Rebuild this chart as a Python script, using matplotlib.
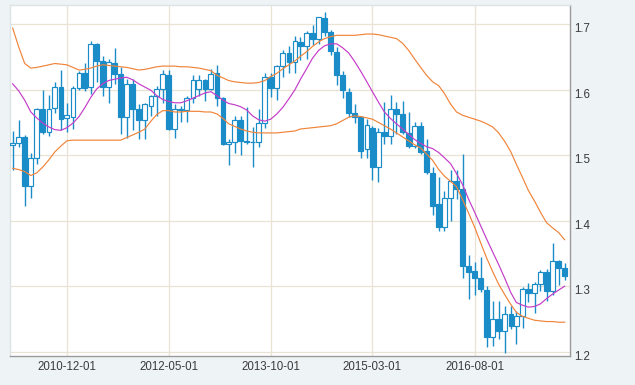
import numpy as np
import pandas as pd
import matplotlib
matplotlib.use('Agg')
import matplotlib.pyplot as plt
import matplotlib.dates as mdates
from matplotlib.transforms import ScaledTranslation

# monthly candles, 2010-03 .. 2017-11
months = pd.date_range('2010-03-01', periods=93, freq='MS')

opens = [1.516, 1.519, 1.528, 1.453, 1.495, 1.570, 1.536, 1.572, 1.604, 1.557,
         1.558, 1.602, 1.626, 1.604, 1.670, 1.644, 1.604, 1.640, 1.624, 1.558,
         1.609, 1.571, 1.553, 1.575, 1.590, 1.6015, 1.623, 1.540, 1.569, 1.5685,
         1.587, 1.6015, 1.6143, 1.6015, 1.6255, 1.587, 1.5176, 1.520, 1.554, 1.521,
         1.5195, 1.5205, 1.549, 1.619, 1.603, 1.636, 1.656, 1.643, 1.673, 1.667,
         1.687, 1.677, 1.7094, 1.688, 1.6575, 1.622, 1.5965, 1.565, 1.558, 1.510,
         1.542, 1.482, 1.5353, 1.529, 1.571, 1.5633, 1.534, 1.5135, 1.5445, 1.5064,
         1.4735, 1.425, 1.391, 1.4354, 1.460, 1.448, 1.331, 1.3234, 1.313, 1.294,
         1.223, 1.2506, 1.2318, 1.257, 1.2394, 1.2547, 1.2954, 1.2903, 1.303, 1.322,
         1.293, 1.3387, 1.3285]
highs = [1.537, 1.553, 1.531, 1.504, 1.572, 1.600, 1.592, 1.612, 1.630, 1.580,
         1.606, 1.628, 1.640, 1.674, 1.672, 1.652, 1.647, 1.663, 1.635, 1.617,
         1.617, 1.578, 1.580, 1.592, 1.606, 1.630, 1.630, 1.578, 1.575, 1.590,
         1.623, 1.622, 1.617, 1.631, 1.637, 1.589, 1.524, 1.560, 1.560, 1.574,
         1.543, 1.571, 1.626, 1.626, 1.638, 1.660, 1.667, 1.682, 1.680, 1.690,
         1.6995, 1.7115, 1.7186, 1.6905, 1.6645, 1.628, 1.6025, 1.5785, 1.560, 1.555,
         1.545, 1.5415, 1.5815, 1.592, 1.5805, 1.582, 1.566, 1.551, 1.551, 1.524,
         1.4815, 1.467, 1.446, 1.477, 1.477, 1.5015, 1.348, 1.337, 1.3445, 1.300,
         1.2775, 1.2775, 1.2705, 1.2705, 1.2615, 1.2985, 1.3045, 1.306, 1.324, 1.326,
         1.3656, 1.340, 1.335]
lows = [1.478, 1.513, 1.423, 1.435, 1.487, 1.533, 1.529, 1.565, 1.538, 1.535,
        1.540, 1.599, 1.598, 1.594, 1.612, 1.591, 1.580, 1.608, 1.533, 1.527,
        1.538, 1.525, 1.524, 1.560, 1.560, 1.580, 1.538, 1.527, 1.550, 1.550,
        1.580, 1.590, 1.583, 1.599, 1.575, 1.515, 1.4845, 1.503, 1.4997, 1.517,
        1.482, 1.513, 1.542, 1.589, 1.585, 1.619, 1.625, 1.625, 1.646, 1.6475,
        1.669, 1.6695, 1.6815, 1.6535, 1.6066, 1.587, 1.559, 1.5485, 1.495, 1.495,
        1.4616, 1.459, 1.517, 1.517, 1.533, 1.533, 1.5105, 1.5105, 1.5025, 1.472,
        1.408, 1.3845, 1.384, 1.400, 1.4335, 1.313, 1.280, 1.286, 1.2915, 1.2064,
        1.208, 1.220, 1.1987, 1.2345, 1.211, 1.2365, 1.2765, 1.259, 1.293, 1.2775,
        1.286, 1.3025, 1.310]
closes = [1.519, 1.528, 1.453, 1.495, 1.570, 1.536, 1.571, 1.604, 1.556, 1.561,
          1.602, 1.626, 1.602, 1.670, 1.644, 1.604, 1.642, 1.624, 1.558, 1.609,
          1.571, 1.553, 1.578, 1.590, 1.6015, 1.624, 1.540, 1.570, 1.571, 1.587,
          1.615, 1.6143, 1.6015, 1.624, 1.587, 1.5176, 1.520, 1.554, 1.521, 1.5195,
          1.5205, 1.549, 1.619, 1.603, 1.636, 1.656, 1.643, 1.674, 1.667, 1.687,
          1.677, 1.711, 1.688, 1.6585, 1.622, 1.600, 1.565, 1.558, 1.506, 1.5455,
          1.482, 1.5353, 1.529, 1.571, 1.563, 1.5353, 1.5135, 1.5445, 1.505, 1.4743,
          1.4226, 1.391, 1.4354, 1.460, 1.448, 1.331, 1.321, 1.3132, 1.2954, 1.223,
          1.2506, 1.2318, 1.257, 1.2394, 1.2547, 1.2954, 1.290, 1.303, 1.322, 1.293,
          1.3387, 1.3285, 1.316]

# band lines
upper = [1.694, 1.665, 1.640, 1.633, 1.634, 1.636, 1.638, 1.640, 1.639, 1.638,
         1.634, 1.630, 1.631, 1.633, 1.636, 1.638, 1.637, 1.636, 1.635, 1.634,
         1.632, 1.630, 1.631, 1.633, 1.635, 1.636, 1.636, 1.636, 1.635, 1.635,
         1.634, 1.633, 1.631, 1.629, 1.622, 1.618, 1.614, 1.612, 1.611, 1.610,
         1.610, 1.611, 1.614, 1.620, 1.625, 1.632, 1.638, 1.644, 1.651, 1.658,
         1.666, 1.673, 1.678, 1.681, 1.683, 1.683, 1.683, 1.683, 1.684, 1.685,
         1.685, 1.684, 1.682, 1.680, 1.678, 1.671, 1.660, 1.647, 1.634, 1.622,
         1.612, 1.606, 1.594, 1.578, 1.566, 1.561, 1.558, 1.555, 1.552, 1.548,
         1.543, 1.534, 1.521, 1.505, 1.486, 1.466, 1.446, 1.430, 1.413, 1.397,
         1.389, 1.382, 1.371]
middle = [1.609, 1.598, 1.584, 1.566, 1.557, 1.549, 1.543, 1.539, 1.538, 1.542,
          1.549, 1.559, 1.572, 1.588, 1.601, 1.609, 1.614, 1.616, 1.618, 1.619,
          1.615, 1.609, 1.604, 1.599, 1.591, 1.585, 1.582, 1.580, 1.580, 1.583,
          1.587, 1.591, 1.595, 1.597, 1.591, 1.584, 1.579, 1.577, 1.574, 1.569,
          1.560, 1.554, 1.552, 1.555, 1.563, 1.573, 1.586, 1.600, 1.616, 1.632,
          1.648, 1.660, 1.667, 1.670, 1.670, 1.664, 1.656, 1.643, 1.628, 1.612,
          1.597, 1.581, 1.566, 1.556, 1.548, 1.540, 1.532, 1.524, 1.518, 1.513,
          1.510, 1.504, 1.496, 1.487, 1.472, 1.455, 1.433, 1.413, 1.392, 1.372,
          1.352, 1.333, 1.312, 1.290, 1.275, 1.271, 1.268, 1.269, 1.273, 1.281,
          1.288, 1.294, 1.300]
lower = [1.480, 1.478, 1.475, 1.469, 1.473, 1.482, 1.493, 1.505, 1.514, 1.522,
         1.523, 1.523, 1.523, 1.523, 1.523, 1.523, 1.523, 1.523, 1.523, 1.527,
         1.531, 1.535, 1.540, 1.552, 1.562, 1.568, 1.568, 1.566, 1.566, 1.567,
         1.567, 1.567, 1.566, 1.566, 1.563, 1.556, 1.548, 1.544, 1.540, 1.537,
         1.535, 1.534, 1.534, 1.534, 1.534, 1.535, 1.536, 1.537, 1.540, 1.541,
         1.542, 1.543, 1.544, 1.545, 1.548, 1.553, 1.558, 1.560, 1.559, 1.557,
         1.555, 1.550, 1.545, 1.540, 1.534, 1.528, 1.522, 1.516, 1.511, 1.502,
         1.492, 1.478, 1.468, 1.460, 1.452, 1.432, 1.412, 1.390, 1.366, 1.343,
         1.322, 1.303, 1.287, 1.272, 1.260, 1.254, 1.251, 1.248, 1.247, 1.246,
         1.246, 1.245, 1.245]

tick_dates = ['2010-12-01', '2012-05-01', '2013-10-01', '2015-03-01', '2016-08-01']
y_ticks = [1.2, 1.3, 1.4, 1.5, 1.6, 1.7]

blue = '#1a8cc8'
orange = '#f0843a'
magenta = '#c43cc8'

o = np.array(opens); h = np.array(highs); l = np.array(lows); c = np.array(closes)
x = mdates.date2num(months)

fig = plt.figure(figsize=(6.35, 3.85), dpi=100, facecolor='#eef3f5')
ax = fig.add_axes([0.015, 0.0753, 0.8826, 0.9117])
ax.set_facecolor('white')

# wicks then bodies (hollow = up, filled = down)
ax.vlines(x, l, h, color=blue, lw=1.0, zorder=2)
faces = np.where(c >= o, 'white', blue)
ax.bar(x, np.maximum(np.abs(c - o), 0.0008), bottom=np.minimum(o, c), width=24,
       facecolor=faces, edgecolor=blue, lw=0.85, zorder=3)

ax.plot(x, upper, color=orange, lw=0.85, zorder=4)
ax.plot(x, lower, color=orange, lw=0.85, zorder=4)
ax.plot(x, middle, color=magenta, lw=0.85, zorder=4)

ax.set_xlim(mdates.date2num(pd.Timestamp('2010-02-13')), mdates.date2num(pd.Timestamp('2017-11-28')))
ax.set_ylim(1.1934, 1.7293)

ax.set_xticks(mdates.date2num(pd.to_datetime(tick_dates)))
ax.set_xticklabels(tick_dates)
ax.yaxis.tick_right()
ax.set_yticks(y_ticks)
ax.set_yticklabels(['%.1f' % v for v in y_ticks])

ax.grid(True, color='#e8e3d3', lw=0.9)
ax.set_axisbelow(True)
ax.tick_params(length=0, labelsize=8.3, labelcolor='#3a3a3a')
ax.tick_params(axis='y', pad=3)
ax.tick_params(axis='x', pad=3.5)
for lab in ax.get_xticklabels() + ax.get_yticklabels():
    lab.set_family('Liberation Sans')
offset = ScaledTranslation(0, -0.035, fig.dpi_scale_trans)
for lab in ax.get_yticklabels():
    lab.set_transform(lab.get_transform() + offset)

for side in ['right', 'bottom']:
    ax.spines[side].set_color('#9a9a9a')
    ax.spines[side].set_linewidth(1.0)
for side in ['top', 'left']:
    ax.spines[side].set_color('#dde2e4')
    ax.spines[side].set_linewidth(1.0)

fig.savefig('out.png', dpi=100, facecolor=fig.get_facecolor())
